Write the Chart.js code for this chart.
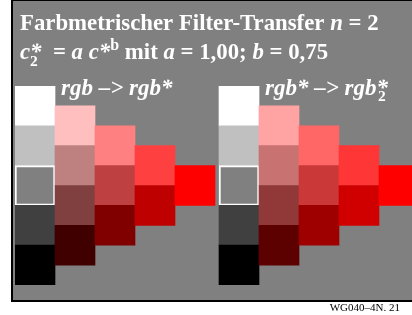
<!DOCTYPE html>
<html>
<head>
<meta charset="utf-8">
<script src="https://cdn.jsdelivr.net/npm/chart.js@4/dist/chart.umd.min.js"></script>
<style>
  html, body { margin: 0; padding: 0; background: #ffffff; }
  #wrap { position: relative; width: 412px; height: 315px; }
</style>
</head>
<body>
<div id="wrap"><canvas id="c"></canvas></div>
<script>
// Lightness level of each cell, per column (column 0 = grey scale, column 4 = full red)
const columnLevels = [
  [4, 3, 2, 1, 0],
  [3.5, 2.5, 1.5, 0.5],
  [3, 2, 1],
  [2.5, 1.5],
  [2]
];
// Left panel: rgb -> rgb*
const leftColors = [
  ['#ffffff', '#c0c0c0', '#808080', '#404040', '#000000'],
  ['#ffbfbf', '#bf8080', '#804040', '#400000'],
  ['#ff8080', '#bf4040', '#800000'],
  ['#ff4040', '#bf0000'],
  ['#ff0000']
];
// Right panel: rgb* -> rgb*2
const rightColors = [
  ['#ffffff', '#c0c0c0', '#808080', '#404040', '#000000'],
  ['#ffa3a3', '#c87272', '#913838', '#5c0000'],
  ['#ff6666', '#cb3838', '#9e0000'],
  ['#ff3636', '#d00000'],
  ['#ff0000']
];
const titleText = 'Farbmetrischer Filter-Transfer';
const leftLabel = 'rgb \u2013> rgb*';
const rightLabel = 'rgb* \u2013> rgb*';
const footerText = 'WG040\u20134N. 21';

const PANEL_START = [0, 5.1];   // x start of each panel, in column units
const HIGHLIGHT_LEVEL = 2;      // mid grey cell with white frame

function buildData(colors, panel) {
  const pts = [], bg = [], bw = [];
  columnLevels.forEach((levels, c) => {
    levels.forEach((lvl, r) => {
      pts.push({ x: PANEL_START[panel] + c, y: [lvl - 0.5, lvl + 0.5] });
      bg.push(colors[c][r]);
      bw.push(c === 0 && lvl === HIGHLIGHT_LEVEL ? 2 : 0);
    });
  });
  return { pts, bg, bw };
}
const L = buildData(leftColors, 0);
const R = buildData(rightColors, 1);

const FONT = '"Liberation Serif", "Times New Roman", serif';
function drawRuns(ctx, x, y, runs, baseSize) {
  for (const r of runs) {
    if (r.stack) {
      let w = 0;
      for (const s of r.stack) {
        ctx.font = `${s.style || 'bold'} ${s.size || baseSize}px ${FONT}`;
        ctx.fillText(s.t, x, y + (s.dy || 0));
        w = Math.max(w, ctx.measureText(s.t).width);
      }
      x += w;
      continue;
    }
    ctx.font = `${r.style || 'bold'} ${r.size || baseSize}px ${FONT}`;
    ctx.fillText(r.t, x, y + (r.dy || 0));
    x += ctx.measureText(r.t).width;
  }
  return x;
}

const panelPlugin = {
  id: 'panel',
  beforeDraw(chart) {
    const ctx = chart.ctx;
    ctx.save();
    ctx.fillStyle = '#000000';
    ctx.fillRect(11, 0, 402, 302);
    ctx.fillStyle = '#808080';
    ctx.fillRect(13, 1, 400, 299);
    ctx.restore();
  },
  afterDraw(chart) {
    const ctx = chart.ctx;
    ctx.save();
    ctx.fillStyle = '#ffffff';
    ctx.textBaseline = 'alphabetic';
    const BI = 'italic bold';
    drawRuns(ctx, 20, 30, [
      { t: titleText + ' ' },
      { t: 'n', style: BI },
      { t: ' = 2' }
    ], 22.8);
    drawRuns(ctx, 20, 59, [
      { t: 'c', style: BI },
      { stack: [{ t: '*', style: BI }, { t: '2', size: 15.5, dy: 7 }] },
      { t: '  = ' },
      { t: 'a', style: BI },
      { t: ' ' },
      { t: 'c', style: BI },
      { t: '*', style: BI },
      { t: 'b', size: 16, dy: -9 },
      { t: ' mit ' },
      { t: 'a', style: BI },
      { t: ' = 1,00; ' },
      { t: 'b', style: BI },
      { t: ' = 0,75' }
    ], 22.8);
    drawRuns(ctx, 61, 95, [{ t: leftLabel, style: BI }], 23);
    const xr = drawRuns(ctx, 265, 95, [{ t: rightLabel, style: BI }], 23);
    drawRuns(ctx, xr - 10, 101, [{ t: '2', size: 15.5 }], 23);
    ctx.fillStyle = '#000000';
    ctx.font = `11px ${FONT}`;
    ctx.textAlign = 'right';
    ctx.fillText(footerText, 400, 311);
    ctx.restore();
  }
};

new Chart(document.getElementById('c'), {
  type: 'bar',
  data: {
    datasets: [
      { data: L.pts, backgroundColor: L.bg, borderWidth: L.bw, borderColor: '#ffffff',
        borderSkipped: false, grouped: false, barPercentage: 1, categoryPercentage: 1 },
      { data: R.pts, backgroundColor: R.bg, borderWidth: R.bw, borderColor: '#ffffff',
        borderSkipped: false, grouped: false, barPercentage: 1, categoryPercentage: 1 }
    ]
  },
  options: {
    responsive: true,
    maintainAspectRatio: false,
    animation: false,
    devicePixelRatio: 1,
    layout: { padding: { left: 15, right: 0, top: 86, bottom: 30 } },
    plugins: { legend: { display: false }, tooltip: { enabled: false }, title: { display: false } },
    scales: {
      x: { type: 'linear', min: -0.5, max: 9.425, offset: false, display: false },
      y: { type: 'linear', min: -0.5, max: 4.5, display: false }
    }
  },
  plugins: [panelPlugin]
});
</script>
</body>
</html>
